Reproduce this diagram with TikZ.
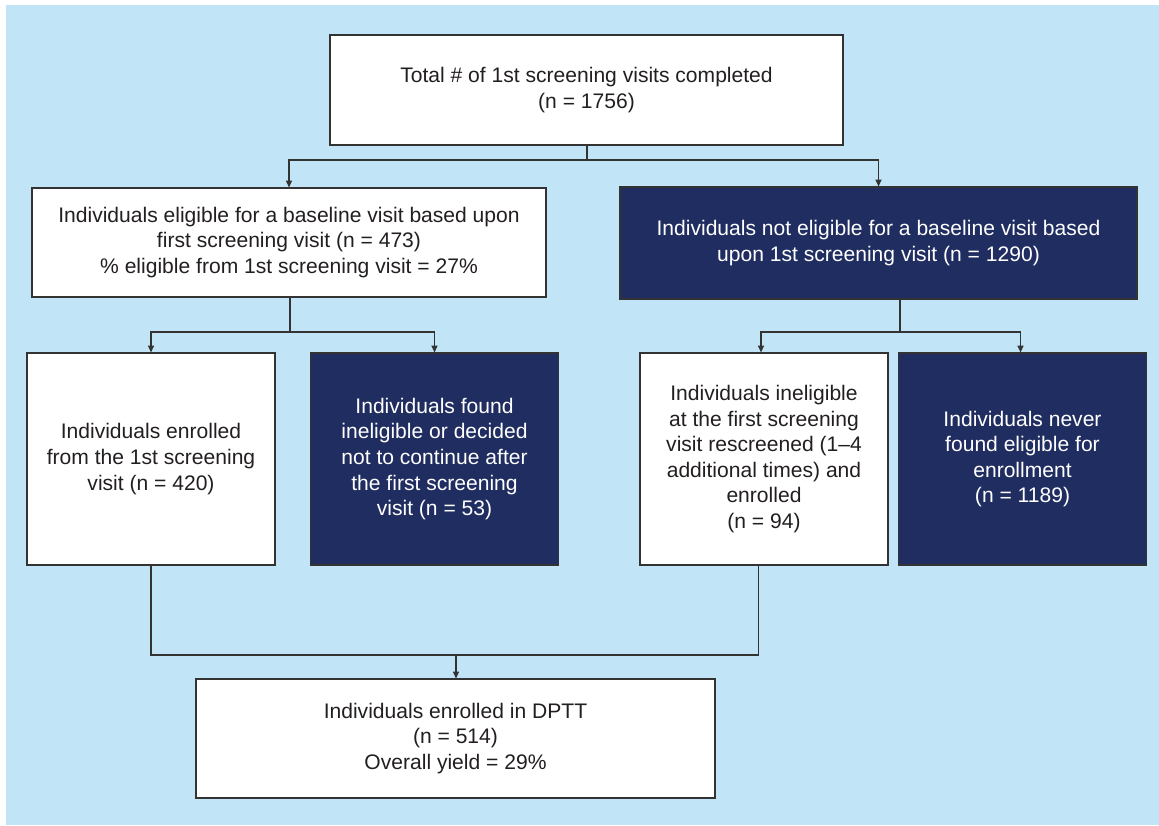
\documentclass[tikz,border=0pt]{standalone}
\usepackage{fontspec}
\setmainfont{Liberation Sans}
\usetikzlibrary{arrows.meta}

\definecolor{bgblue}{RGB}{193,229,246}
\definecolor{navy}{RGB}{32,45,96}
\definecolor{linegray}{RGB}{51,51,51}

\tikzset{every picture/.style={line width=0.9pt}}
\tikzset{
  whitebox/.style={draw=linegray, fill=white, text={rgb,255:red,35;green,31;blue,32}, align=center, inner sep=0pt,
    font=\fontsize{15.8}{19.2}\selectfont},
  navybox/.style={whitebox, fill=navy, text=white},
  link/.style={draw=linegray},
  arr/.style={link, -{Triangle[length=5pt,width=4.5pt]}}
}

\begin{document}
\begin{tikzpicture}[x=0.75pt,y=0.75pt,yscale=-1,xscale=1]
\useasboundingbox (0,0) rectangle (1159,825);
%Background
\fill [bgblue] (6,5) rectangle (1159,825);

% Boxes
\node [whitebox, minimum width=384.75pt, minimum height=82.5pt] (total) at (586.5,90)
  {Total \# of 1st screening visits completed\\(n = 1756)};
\node [whitebox, minimum width=385.5pt, minimum height=81.75pt] (elig) at (289,242.5)
  {Individuals eligible for a baseline visit based upon\\first screening visit (n = 473)\\\% eligible from 1st screening visit = 27\%};
\node [navybox, minimum width=387.75pt, minimum height=84pt] (notelig) at (878.5,243)
  {Individuals not eligible for a baseline visit based\\upon 1st screening visit (n = 1290)};
\node [whitebox, minimum width=186pt, minimum height=159pt] (enrolA) at (151,459)
  {Individuals enrolled\\from the 1st screening\\visit (n = 420)};
\node [navybox, minimum width=186pt, minimum height=159pt] (dropA) at (434.5,459)
  {Individuals found\\ineligible or decided\\not to continue after\\the first screening\\visit (n = 53)};
\node [whitebox, minimum width=186pt, minimum height=159pt] (rescr) at (764,459)
  {Individuals ineligible\\at the first screening\\visit rescreened (1--4\\additional times) and\\enrolled\\(n = 94)};
\node [navybox, minimum width=186pt, minimum height=159pt] (never) at (1022.5,459)
  {Individuals never\\found eligible for\\enrollment\\(n = 1189)};
\node [whitebox, minimum width=389.25pt, minimum height=89.25pt] (final) at (455.5,738.5)
  {Individuals enrolled in DPTT\\(n = 514)\\Overall yield = 29\%};

% Junctions
\coordinate (jTop) at (587,160);
\coordinate (jA) at (290,332);
\coordinate (jB) at (900,332);
\coordinate (jC) at (456,655);

% Connectors
\draw [link] (total.south -| jTop) -- (jTop);
\draw [arr] (jTop) -| (elig.north);
\draw [arr] (jTop) -| (notelig.north);
\draw [link] (elig.south -| jA) -- (jA);
\draw [arr] (jA) -| (enrolA.north);
\draw [arr] (jA) -| (dropA.north);
\draw [link] (notelig.south -| jB) -- (jB);
\draw [arr] (jB) -| ([xshift=-2.25pt]rescr.north);
\draw [arr] (jB) -| ([xshift=-1.5pt]never.north);
\draw [link] (enrolA.south) |- ([xshift=-4pt]rescr.south |- jC) -- ([xshift=-4pt]rescr.south);
\draw [arr] (jC) -- (final.north -| jC);

\end{tikzpicture}
\end{document}
